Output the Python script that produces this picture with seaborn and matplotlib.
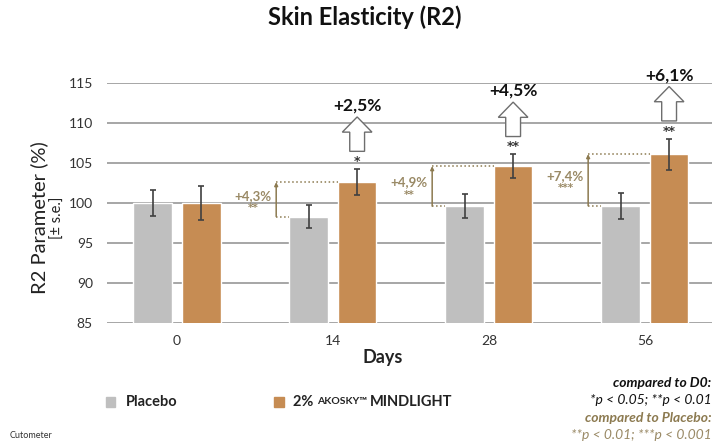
import pandas as pd
import matplotlib.pyplot as plt
import matplotlib.patches as mpatches
import seaborn as sns

# -------------------------------
# 1. Data
# -------------------------------
days = ["0", "14", "28", "56"]
placebo = [100.0, 98.3, 99.6, 99.65]
placebo_err = [1.6, 1.45, 1.5, 1.65]
mindlight = [100.0, 102.6, 104.6, 106.1]
mindlight_err = [2.15, 1.65, 1.5, 1.95]

d0_stars = ["", "*", "**", "**"]
d0_change = ["", "+2,5%", "+4,5%", "+6,1%"]
pl_change = ["", "+4,3%", "+4,9%", "+7,4%"]
pl_stars = ["", "**", "**", "***"]

groups = ["Placebo", "2% AKOSKY™ MINDLIGHT"]
colors = ["#BFBFBF", "#C68C53"]
tan_line = "#8C7A50"
tan_text = "#9A8A66"

df = pd.DataFrame({
    "day": days * 2,
    "group": [groups[0]] * 4 + [groups[1]] * 4,
    "value": placebo + mindlight,
    "err": placebo_err + mindlight_err,
})

# -------------------------------
# 2. Figure
# -------------------------------
sns.set_style("white")
plt.rcParams["font.family"] = ["Lato", "DejaVu Sans"]

fig = plt.figure(figsize=(7.12, 4.43), dpi=100)
ax = fig.add_axes([0.150, 0.271, 0.850, 0.5418])

sns.barplot(data=df, x="day", y="value", hue="group", palette=colors,
            saturation=1, width=0.62, gap=0.2, errorbar=None, legend=False, ax=ax)

ax.set_ylim(85, 115)
ax.set_xlim(-0.45, 3.43)
ax.set_yticks(range(85, 116, 5))
ax.yaxis.grid(True, color="#A6A6A6", linewidth=1.4)
ax.set_axisbelow(True)
for s in ax.spines.values():
    s.set_visible(False)
ax.tick_params(axis="y", length=0, pad=10, labelsize=10, labelcolor="#333333")
ax.tick_params(axis="x", length=0, pad=9, labelsize=10, labelcolor="#333333")
ax.set_xlabel("")
ax.set_ylabel("")

# bar centers from the drawn patches
bars = [p for p in ax.patches if p.get_height() > 0]
bars = sorted(bars, key=lambda p: p.get_x())
centers_pl = [bars[2 * i].get_x() + bars[2 * i].get_width() / 2 for i in range(4)]
centers_ml = [bars[2 * i + 1].get_x() + bars[2 * i + 1].get_width() / 2 for i in range(4)]
bw = bars[0].get_width()

ax.errorbar(centers_pl, placebo, yerr=placebo_err, fmt="none", ecolor="#404040",
            elinewidth=1.2, capsize=2.5, capthick=1.2)
ax.errorbar(centers_ml, mindlight, yerr=mindlight_err, fmt="none", ecolor="#404040",
            elinewidth=1.2, capsize=2.5, capthick=1.2)

# -------------------------------
# 3. Annotations
# -------------------------------
for i in range(1, 4):
    xm = centers_ml[i]
    star_y = mindlight[i] + mindlight_err[i] + 0.9
    ax.text(xm, star_y, d0_stars[i], ha="center", va="center", fontsize=9,
            fontweight="bold", color="#333333", family="DejaVu Sans", clip_on=False)
    base = star_y + 1.3
    arrow = mpatches.FancyArrow(xm, base, 0, 4.3, width=0.095, head_width=0.19,
                                head_length=1.9, length_includes_head=True,
                                facecolor="white", edgecolor="#6E6E6E",
                                linewidth=1.0, clip_on=False)
    ax.add_patch(arrow)
    ax.text(xm, base + 4.3 + 1.4, d0_change[i], ha="center", va="center",
            fontsize=12.5, fontweight="bold", color="#111111", clip_on=False)

    # comparison to placebo
    xp_left = centers_pl[i] - bw / 2
    xm_left = xm - bw / 2
    xb = xp_left - 0.085
    ax.plot([xb, xm_left], [mindlight[i], mindlight[i]], ls=":", color=tan_line, lw=1.1)
    ax.plot([xb, xp_left], [placebo[i], placebo[i]], ls=":", color=tan_line, lw=1.1)
    ax.annotate("", xy=(xb, mindlight[i]), xytext=(xb, placebo[i]),
                arrowprops=dict(arrowstyle="-|>", color=tan_line, lw=1.1,
                                mutation_scale=5, shrinkA=0, shrinkB=0))
    ymid = (mindlight[i] + placebo[i]) / 2
    ax.text(xb - 0.03, ymid + 0.45, pl_change[i], ha="right", va="center",
            fontsize=9.5, fontweight="bold", color=tan_text)
    ax.text(xb - 0.145, ymid - 1.05, pl_stars[i], ha="center", va="center",
            fontsize=7.5, fontweight="bold", color=tan_text, family="DejaVu Sans")

# -------------------------------
# 4. Titles and labels
# -------------------------------
fig.text(365 / 712, 1 - 17 / 443, "Skin Elasticity (R2)", ha="center", va="center",
         fontsize=17, fontweight="bold", color="#111111")
fig.text(383 / 712, 1 - 358 / 443, "Days", ha="center", va="center",
         fontsize=13, fontweight="bold", color="#222222")
fig.text(39 / 712, 1 - 218 / 443, "R2 Parameter (%)", ha="center", va="center",
         rotation=90, fontsize=14.5, color="#222222")
fig.text(58 / 712, 1 - 218 / 443, "[± s.e.]", ha="center", va="center",
         rotation=90, fontsize=10.5, color="#222222")

# legend
fig.patches.append(mpatches.Rectangle((106 / 712, 1 - 407 / 443), 9 / 712, 10 / 443,
                                      transform=fig.transFigure, color=colors[0]))
fig.patches.append(mpatches.Rectangle((274 / 712, 1 - 407 / 443), 10 / 712, 10 / 443,
                                      transform=fig.transFigure, color=colors[1]))
fig.text(126 / 712, 1 - 402 / 443, "Placebo", ha="left", va="center",
         fontsize=10.5, fontweight="bold", color="#222222")

fig.canvas.draw()
renderer = fig.canvas.get_renderer()
x = 293 / 712
for txt, size in [("2% ", 10.5), ("AKOSKY™ ", 7.5), ("MINDLIGHT", 10.5)]:
    t = fig.text(x, 1 - 402 / 443, txt, ha="left", va="center", fontsize=size,
                 fontweight="bold", color="#222222")
    bb = t.get_window_extent(renderer)
    x = bb.x1 / fig.bbox.width

fig.text(0.999, 1 - 383 / 443, "compared to D0:", ha="right", va="center",
         fontsize=10, fontweight="bold", fontstyle="italic", color="#111111")
fig.text(0.999, 1 - 400 / 443, "*p < 0.05; **p < 0.01", ha="right", va="center",
         fontsize=10, fontstyle="italic", color="#111111")
fig.text(0.999, 1 - 418 / 443, "compared to Placebo:", ha="right", va="center",
         fontsize=10, fontweight="bold", fontstyle="italic", color=tan_line)
fig.text(0.999, 1 - 435 / 443, "**p < 0.01; ***p < 0.001", ha="right", va="center",
         fontsize=10, fontstyle="italic", color=tan_text)
fig.text(10 / 712, 1 - 436 / 443, "Cutometer", ha="left", va="center",
         fontsize=6.5, color="#333333")

fig.savefig("out.png", dpi=100)
